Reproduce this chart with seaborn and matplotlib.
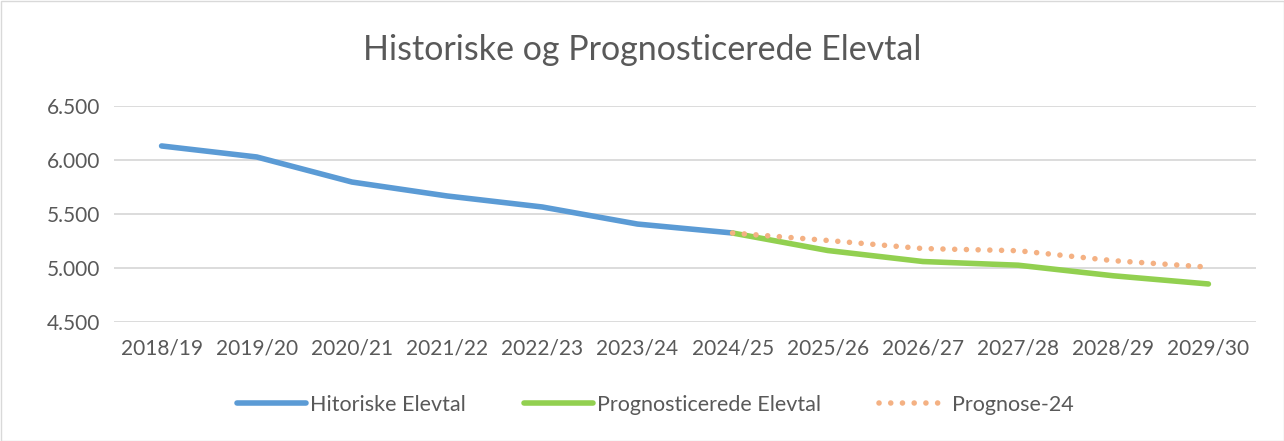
import seaborn as sns
import matplotlib.pyplot as plt
import pandas as pd
from matplotlib.ticker import FuncFormatter

seasons = ["2018/19", "2019/20", "2020/21", "2021/22", "2022/23", "2023/24",
           "2024/25", "2025/26", "2026/27", "2027/28", "2028/29", "2029/30"]
historic = [6130, 6028, 5796, 5667, 5565, 5407, 5324]
forecast = [5324, 5162, 5060, 5026, 4928, 4852]
prognose24 = [5324, 5255, 5180, 5160, 5068, 5008]

sns.set_theme(style="white")
plt.rcParams["font.family"] = ["Lato", "DejaVu Sans"]
text_col = "#595959"

fig = plt.figure(figsize=(12.84, 4.41), dpi=100)
ax = fig.add_axes([114 / 1284, 1 - 322 / 441, (1256 - 114) / 1284, (322 - 106) / 441])

pos = list(range(len(seasons)))
hist_df = pd.DataFrame({"x": pos[:len(historic)], "y": historic})
fc_df = pd.DataFrame({"x": pos[6:6 + len(forecast)], "y": forecast})
p24_df = pd.DataFrame({"x": pos[6:6 + len(prognose24)], "y": prognose24})

sns.lineplot(data=hist_df, x="x", y="y", ax=ax, color="#5B9BD5", lw=4,
             solid_capstyle="round", label="Hitoriske Elevtal")
sns.lineplot(data=fc_df, x="x", y="y", ax=ax, color="#92D050", lw=4,
             solid_capstyle="round", label="Prognosticerede Elevtal")
sns.lineplot(data=p24_df, x="x", y="y", ax=ax, color="#F4B183", lw=4,
             dashes=False, label="Prognose-24")
ax.lines[-1].set_linestyle((0, (0.01, 2.1)))
ax.lines[-1].set_dash_capstyle("round")

ax.set_xlim(-0.5, len(seasons) - 0.5)
ax.set_ylim(4500, 6500)
ax.set_yticks([4500, 5000, 5500, 6000, 6500])
ax.yaxis.set_major_formatter(FuncFormatter(lambda v, p: f"{int(v):,}".replace(",", ".")))
ax.set_xticks(pos)
ax.set_xticklabels(seasons)
ax.grid(axis="y", color="#D9D9D9", lw=1.3)
ax.set_axisbelow(True)
for s in ax.spines.values():
    s.set_visible(False)
ax.tick_params(axis="both", colors=text_col, labelsize=15, length=0)
ax.tick_params(axis="x", pad=12)
ax.tick_params(axis="y", pad=10)
ax.set_xlabel("")
ax.set_ylabel("")

fig.text(0.5, 1 - 50 / 441, "Historiske og Prognosticerede Elevtal", ha="center",
         va="center", fontsize=24.5, color=text_col)

leg = ax.legend(loc="center", bbox_to_anchor=(0.474, (322 - 405) / (322 - 106)),
                ncol=3, frameon=False, fontsize=15.5, handlelength=3.2,
                columnspacing=2.7, handletextpad=0.2)
for t in leg.get_texts():
    t.set_color(text_col)

fig.patches.append(plt.Rectangle((0.5 / 1284, 0.5 / 441), 1 - 1 / 1284, 1 - 1 / 441,
                                 transform=fig.transFigure, fill=False,
                                 edgecolor="#D9D9D9", lw=1))

fig.savefig("out.png", dpi=100)
